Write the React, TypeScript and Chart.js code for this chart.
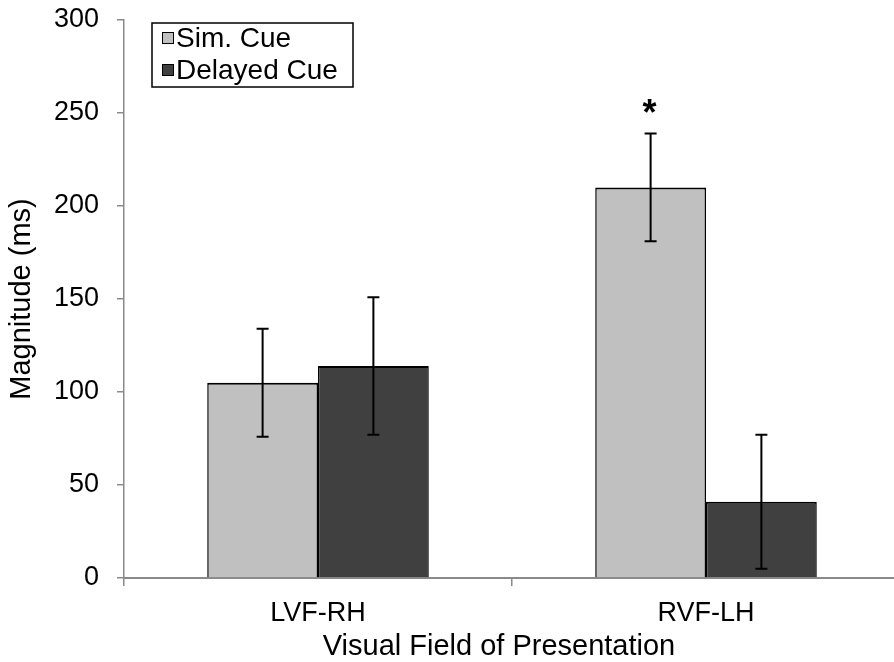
import React, { useEffect, useRef } from 'react';
import { Chart, registerables } from 'chart.js';

Chart.register(...registerables);

const categories = ['LVF-RH', 'RVF-LH'];
const seriesNames = ['Sim. Cue', 'Delayed Cue'];
const simCue = [105, 210];
const delayedCue = [114, 41];
const simCueLow = [76, 181];
const simCueHigh = [134, 239];
const delayedCueLow = [77, 5];
const delayedCueHigh = [151, 77];
const simCueMarks = ['', '*'];
const delayedCueMarks = ['', ''];
const yMin = 0;
const yMax = 300;
const yStep = 50;
const xTitle = 'Visual Field of Presentation';
const yTitle = 'Magnitude (ms)';

const FONT = '"Liberation Sans", Arial, sans-serif';
const AXIS_GRAY = '#8a8a8a';

const errorBarPlugin = {
  id: 'errorBars',
  afterDatasetsDraw(chart: any) {
    const ctx = chart.ctx;
    const y = chart.scales.y;
    chart.data.datasets.forEach((ds: any, i: number) => {
      const meta = chart.getDatasetMeta(i);
      meta.data.forEach((bar: any, j: number) => {
        const lo = y.getPixelForValue(ds.errLow[j]);
        const hi = y.getPixelForValue(ds.errHigh[j]);
        const x = bar.x;
        ctx.save();
        ctx.strokeStyle = '#000';
        ctx.lineWidth = 2;
        ctx.beginPath();
        ctx.moveTo(x, lo);
        ctx.lineTo(x, hi);
        ctx.moveTo(x - 6, lo);
        ctx.lineTo(x + 6, lo);
        ctx.moveTo(x - 6, hi);
        ctx.lineTo(x + 6, hi);
        ctx.stroke();
        const mark = ds.marks[j];
        if (mark) {
          ctx.fillStyle = '#000';
          ctx.font = `bold 36px ${FONT}`;
          ctx.textAlign = 'center';
          ctx.textBaseline = 'middle';
          ctx.fillText(mark, x - 1, hi - 18);
        }
        ctx.restore();
      });
    });
  },
};

const legendPlugin = {
  id: 'boxLegend',
  afterDraw(chart: any) {
    const ctx = chart.ctx;
    const left = chart.chartArea.left + 28;
    const top = chart.chartArea.top + 3;
    const w = 201;
    const h = 64;
    ctx.save();
    ctx.fillStyle = '#fff';
    ctx.fillRect(left, top, w, h);
    ctx.strokeStyle = '#000';
    ctx.lineWidth = 1.5;
    ctx.strokeRect(left, top, w, h);
    chart.data.datasets.forEach((ds: any, i: number) => {
      const cy = top + 15 + i * 32;
      ctx.fillStyle = ds.backgroundColor;
      ctx.fillRect(left + 10, cy - 6, 12, 12);
      ctx.strokeStyle = '#000';
      ctx.lineWidth = 1;
      ctx.strokeRect(left + 10.5, cy - 5.5, 11, 11);
      ctx.fillStyle = '#000';
      ctx.font = `28px ${FONT}`;
      ctx.textAlign = 'left';
      ctx.textBaseline = 'middle';
      ctx.fillText(ds.label, left + 24, cy + 1);
    });
    ctx.restore();
  },
};

const xTitlePlugin = {
  id: 'xTitle',
  afterDraw(chart: any) {
    const ctx = chart.ctx;
    const xs = chart.scales.x;
    ctx.save();
    ctx.fillStyle = '#000';
    ctx.font = `29px ${FONT}`;
    ctx.textAlign = 'center';
    ctx.textBaseline = 'middle';
    ctx.fillText(xTitle, (xs.left + xs.right) / 2 - 13, xs.bottom - 15);
    ctx.restore();
  },
};

export default function App() {
  const ref = useRef<HTMLCanvasElement>(null);
  useEffect(() => {
    if (!ref.current) return;
    const chart = new Chart(ref.current, {
      type: 'bar',
      data: {
        labels: categories,
        datasets: [
          {
            label: seriesNames[0],
            data: simCue,
            errLow: simCueLow,
            errHigh: simCueHigh,
            marks: simCueMarks,
            backgroundColor: '#c0c0c0',
            borderColor: '#000',
            borderWidth: { top: 2, left: 1.5, right: 1.5, bottom: 0 },
            categoryPercentage: 0.571,
            barPercentage: 1,
          } as any,
          {
            label: seriesNames[1],
            data: delayedCue,
            errLow: delayedCueLow,
            errHigh: delayedCueHigh,
            marks: delayedCueMarks,
            backgroundColor: '#404040',
            borderColor: '#000',
            borderWidth: { top: 2, left: 1.5, right: 1.5, bottom: 0 },
            categoryPercentage: 0.571,
            barPercentage: 1,
          } as any,
        ],
      },
      options: {
        responsive: false,
        animation: false,
        layout: { padding: { top: 20, left: 0, right: 0, bottom: 0 } },
        plugins: {
          legend: { display: false },
          tooltip: { enabled: false },
        },
        scales: {
          x: {
            offset: true,
            grid: {
              display: true,
              drawOnChartArea: false,
              offset: true,
              tickLength: 8,
              color: AXIS_GRAY,
              lineWidth: 1.5,
            },
            border: { display: true, color: AXIS_GRAY, width: 2 },
            ticks: {
              color: '#000',
              padding: 11,
              font: { size: 27, family: FONT },
              maxRotation: 0,
            },
            afterFit(scale: any) {
              scale.height = 84;
              scale.paddingLeft = 0;
              scale.paddingRight = 0;
            },
          },
          y: {
            min: yMin,
            max: yMax,
            grid: {
              display: true,
              drawOnChartArea: false,
              tickLength: 7,
              color: AXIS_GRAY,
              lineWidth: 1.5,
            },
            border: { display: true, color: AXIS_GRAY, width: 1.5 },
            ticks: {
              stepSize: yStep,
              color: '#000',
              padding: 18,
              font: { size: 27, family: FONT },
            },
            title: {
              display: true,
              text: yTitle,
              color: '#000',
              font: { size: 29, family: FONT },
              padding: { top: 5, bottom: 0 },
            },
            afterFit(scale: any) {
              scale.width = 124;
              scale.paddingTop = 0;
              scale.paddingBottom = 0;
            },
          },
        },
      },
      plugins: [errorBarPlugin, legendPlugin, xTitlePlugin],
    } as any);
    return () => chart.destroy();
  }, []);

  return (
    <div style={{ position: 'fixed', left: 0, top: 0, width: 900, height: 662, background: '#fff' }}>
      <canvas ref={ref} width={900} height={662} />
    </div>
  );
}
